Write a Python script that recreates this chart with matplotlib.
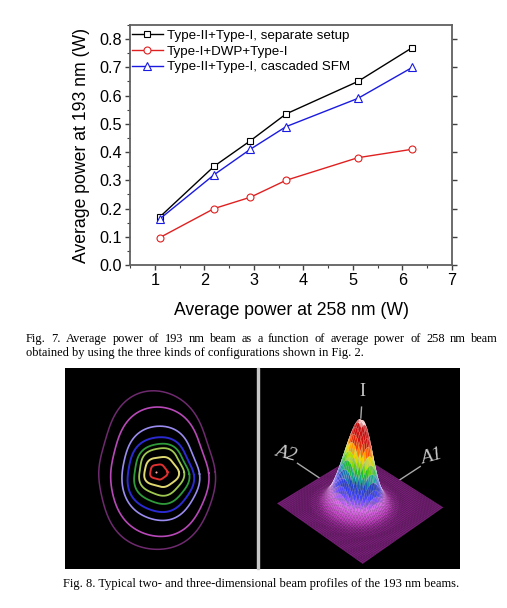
import numpy as np
import matplotlib
matplotlib.use("Agg")
import matplotlib.pyplot as plt
from matplotlib.colors import LinearSegmentedColormap
from matplotlib.ticker import MultipleLocator
from mpl_toolkits.mplot3d import proj3d

# ---------------- data ----------------
x_258 = [1.1, 2.2, 2.93, 3.65, 5.1, 6.2]
p_separate = [0.17, 0.35, 0.44, 0.535, 0.65, 0.77]
p_dwp = [0.097, 0.20, 0.24, 0.30, 0.38, 0.41]
p_cascaded = [0.163, 0.32, 0.41, 0.49, 0.59, 0.70]
labels = ["Type-II+Type-I, separate setup", "Type-I+DWP+Type-I",
          "Type-II+Type-I, cascaded SFM"]
xticks = [1, 2, 3, 4, 5, 6, 7]
yticks = [0.0, 0.1, 0.2, 0.3, 0.4, 0.5, 0.6, 0.7, 0.8]

caption7_l1 = "Fig. 7. Average power of 193 nm beam as a function of average power of 258 nm beam"
caption7_l2 = "obtained by using the three kinds of configurations shown in Fig. 2."
caption8 = "Fig. 8. Typical two- and three-dimensional beam profiles of the 193 nm beams."

# 2D beam profile contours (semi-axes in px, centre offsets, colours)
cont_a = [57, 48, 38, 32.5, 27, 22, 17, 8.5]
cont_b = [81, 66, 48, 38, 30.5, 24, 15, 7.5]
cont_cx = [156.5, 159, 160, 160, 161, 161, 161, 158.5]
cont_cy = [472, 473, 474, 475, 474, 472, 472, 472]
cont_colors = ["#6e2a6e", "#b848b8", "#9a8cf0", "#2a2ad0", "#2e9a3a",
               "#a0c850", "#e0d870", "#e03030"]
cont_lw = [1.1, 1.2, 1.2, 1.4, 1.3, 1.3, 1.4, 1.4]

W, H = 507, 608
fig = plt.figure(figsize=(W / 100, H / 100), dpi=100)
fig.patch.set_facecolor("white")

def fx(px):
    return px / W

def fy(py):
    return 1 - py / H

# ---------------- line chart ----------------
ax = fig.add_axes([fx(130), fy(265), (452 - 130) / W, (265 - 25) / H])
sans = "Liberation Sans"
ax.plot(x_258, p_separate, color="black", lw=1.0, marker="s", ms=4.5,
        mfc="white", mec="black", mew=0.8, label=labels[0])
ax.plot(x_258, p_dwp, color="#e02020", lw=1.0, marker="o", ms=5,
        mfc="white", mec="#e02020", mew=0.8, label=labels[1])
ax.plot(x_258, p_cascaded, color="#1a1ae0", lw=1.0, marker="^", ms=5.5,
        mfc="white", mec="#1a1ae0", mew=0.8, label=labels[2])
ax.set_xlim(0.5, 7)
ax.set_ylim(0, 0.85)
ax.set_xticks(xticks)
ax.set_yticks(yticks)
ax.set_yticklabels([f"{v:.1f}" for v in yticks])
ax.xaxis.set_minor_locator(MultipleLocator(0.5))
ax.yaxis.set_minor_locator(MultipleLocator(0.05))
for s in ax.spines.values():
    s.set_color("#606060")
    s.set_linewidth(1.3)
ax.tick_params(which="both", direction="out", colors="#404040",
               labelcolor="black", labelsize=11.7, right=True, top=False)
ax.tick_params(which="major", length=3.5, width=1.0, pad=2)
ax.tick_params(which="minor", length=2, width=0.8, right=False)
for t in ax.get_xticklabels() + ax.get_yticklabels():
    t.set_fontfamily(sans)
ax.set_xlabel("Average power at 258 nm (W)", fontsize=12.7, family=sans,
              labelpad=10)
ax.set_ylabel("Average power at 193 nm (W)", fontsize=12.7, family=sans,
              labelpad=7)
leg = ax.legend(loc="upper left", bbox_to_anchor=(0.006, 0.981),
                frameon=False, borderaxespad=0, borderpad=0,
                handlelength=2.3, handletextpad=0.3, labelspacing=0.25,
                prop={"family": sans, "size": 9.6})

# ---------------- captions ----------------
serif = "Liberation Serif"
fig.canvas.draw()
renderer = fig.canvas.get_renderer()

def justify(line, x0, x1, ybase, size):
    words = line.split(" ")
    texts = [fig.text(0, fy(ybase), w, family=serif, fontsize=size,
                      va="baseline", ha="left") for w in words]
    widths = [t.get_window_extent(renderer).width for t in texts]
    gap = (x1 - x0 - sum(widths)) / (len(words) - 1)
    x = x0
    for t, w in zip(texts, widths):
        t.set_x(fx(x))
        x += w + gap

justify(caption7_l1, 26, 498, 342, 8.9)
fig.text(fx(26), fy(356), caption7_l2, family=serif, fontsize=8.9,
         va="baseline", ha="left")
fig.text(fx(261), fy(587), caption8, family=serif, fontsize=9.0,
         va="baseline", ha="center")

# ---------------- 2D beam profile ----------------
axc = fig.add_axes([fx(65), fy(569), 192 / W, 201 / H])
axc.set_facecolor("black")
axc.set_xlim(65, 257)
axc.set_ylim(569, 368)
axc.set_xticks([])
axc.set_yticks([])
for s in axc.spines.values():
    s.set_visible(False)
th = np.linspace(0, 2 * np.pi, 400)
for k, (a, b, cx, cy, c, lw) in enumerate(zip(cont_a, cont_b, cont_cx, cont_cy,
                                            cont_colors, cont_lw)):
    r = 1 / np.sqrt((np.cos(th) / a) ** 2 + (np.sin(th) / b) ** 2)
    inner = k / 7.0
    mod = (1 + 0.05 * inner * np.cos(5 * th + 0.6)
           + 0.025 * np.cos(3 * th + 1.2)
           + 0.012 * (1 - inner) * np.cos(6 * th + 0.3)
           + 0.015 * np.cos(2 * th + 0.8))
    r = r * mod
    axc.plot(cx + r * np.cos(th), cy - r * np.sin(th), color=c, lw=lw)
axc.plot([155.7], [471.7], marker="o", ms=1.5, color="#ffb0b0", mew=0)

# separator
fig.patches.append(plt.Rectangle((fx(257), fy(569)), 2 / W, 201 / H,
                                 transform=fig.transFigure, color="#c8c8c8"))

# black panel behind the 3D plot
axbg = fig.add_axes([fx(259), fy(569), 201 / W, 201 / H])
axbg.set_facecolor("black")
axbg.set_xticks([])
axbg.set_yticks([])
for s in axbg.spines.values():
    s.set_visible(False)

# ---------------- 3D beam profile ----------------
ax3 = fig.add_axes([fx(265), fy(568), 191 / W, 193 / H], projection="3d")
ax3.patch.set_alpha(0)
ax3.set_axis_off()
n = 55
g = np.linspace(-1, 1, n)
X, Y = np.meshgrid(g, g)
x0, y0 = -0.07, -0.06
R2 = (X - x0) ** 2 + (Y - y0) ** 2
Hpk = 1.78
Z = Hpk * np.minimum(np.exp(-R2 / (2 * 0.235 ** 2)) * 1.02, 1.0)
cmap = LinearSegmentedColormap.from_list("beam", [
    (0.0, "#7a1c7a"), (0.06, "#c040c0"), (0.16, "#e070f0"), (0.28, "#4040ff"),
    (0.38, "#2040c0"), (0.45, "#10a0a0"), (0.52, "#20c020"),
    (0.62, "#c0e000"), (0.68, "#ffd000"), (0.75, "#ff5000"),
    (0.83, "#d01010"), (0.97, "#c01010"), (1.0, "#ffe0e0")])
Zc = 0.25 * (Z[:-1, :-1] + Z[1:, :-1] + Z[:-1, 1:] + Z[1:, 1:])
surf = ax3.plot_surface(X, Y, Z, facecolors=cmap(Z / Hpk), rstride=1,
                        cstride=1, shade=False, linewidth=0.3,
                        antialiased=True)
ec = np.ones((Zc.size, 4))
ec[:, 3] = np.clip((Zc.ravel() / Hpk) * 1.2, 0.04, 0.3)
surf.set_edgecolor(ec)
ax3.set_xlim(-1, 1)
ax3.set_ylim(-1, 1)
ax3.set_zlim(0, 1.6)
ax3.set_box_aspect((2, 2, 1.6), zoom=1.0)
ax3.view_init(elev=39, azim=-49, roll=-4)
lc = "#a8a8a8"
ax3.plot([x0, x0], [y0, y0], [Hpk * 1.03, Hpk * 1.15], color=lc, lw=1)
ax3.plot([-1, -1.55], [0, 0], [0, 0], color=lc, lw=1)
ax3.plot([0, 0], [1, 1.55], [0, 0], color=lc, lw=1)

fig.canvas.draw()
M = ax3.get_proj()

def to_fig(x, y, z):
    x2, y2, _ = proj3d.proj_transform(x, y, z, M)
    d = ax3.transData.transform((x2, y2))
    return d[0] / W, d[1] / H

lab_col = "#c8c8c8"
px, py = to_fig(x0, y0, Hpk * 1.32)
fig.text(px, py, "I", color=lab_col, family=serif, fontsize=13,
         ha="center", va="center")
px, py = to_fig(-1.85, 0, 0.05)
fig.text(px, py, "A2", color=lab_col, family=serif, fontsize=14,
         style="italic", ha="center", va="center", rotation=-15)
px, py = to_fig(0, 1.85, 0.05)
fig.text(px, py, "A1", color=lab_col, family=serif, fontsize=14,
         style="italic", ha="center", va="center", rotation=15)

fig.savefig("out.png", dpi=100, facecolor="white")
